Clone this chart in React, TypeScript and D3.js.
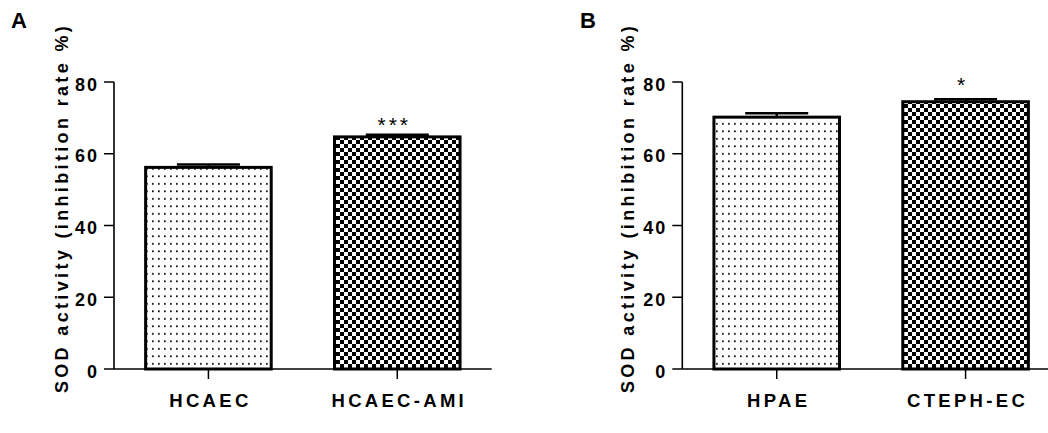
import React from "react";
import * as d3 from "d3";

const categoriesA = ["HCAEC", "HCAEC-AMI"];
const meansA = [56.2, 64.7];
const semsA = [0.8, 0.6];
const starsA = ["", "***"];

const categoriesB = ["HPAE", "CTEPH-EC"];
const meansB = [70.2, 74.5];
const semsB = [1.1, 0.7];
const starsB = ["", "*"];

const yTicks = [0, 20, 40, 60, 80];
const yLabel = "SOD activity (inhibition rate %)";
const panelLetters = ["A", "B"];
const patterns = ["dots", "checker"];

const FONT = "'Liberation Sans', Arial, sans-serif";

type PanelProps = {
  letter: string;
  cats: string[];
  means: number[];
  sems: number[];
  stars: string[];
  x0: number;
  x1: number;
  letterX: number;
  labelX: number;
  starGap: number;
};

function Panel({ letter, cats, means, sems, stars, x0, x1, letterX, labelX, starGap }: PanelProps) {
  const y = d3.scaleLinear().domain([0, 80]).range([369, 82]);
  const x = d3.scaleBand<string>().domain(cats).range([x0, x1]).padding(0);
  const bw = x.bandwidth() * 0.665;
  const capHalf = 31.5;
  return (
    <g>
      <text x={letterX} y={28} fontFamily={FONT} fontWeight="bold" fontSize={22}>{letter}</text>
      <text
        transform={`translate(${labelX},${208}) rotate(-90)`}
        textAnchor="middle"
        fontFamily={FONT}
        fontWeight="bold"
        fontSize={18}
        letterSpacing={3.35}
      >{yLabel}</text>
      {cats.map((c, i) => {
        const cx = (x(c) as number) + x.bandwidth() / 2;
        const top = y(means[i]);
        const eb = y(means[i] + sems[i]);
        return (
          <g key={c}>
            <rect
              x={cx - bw / 2}
              y={top}
              width={bw}
              height={y(0) - top}
              fill={`url(#${patterns[i]})`}
              stroke="#000"
              strokeWidth={3}
            />
            <line x1={cx} x2={cx} y1={top} y2={eb} stroke="#000" strokeWidth={2.5} />
            <line x1={cx - capHalf} x2={cx + capHalf} y1={eb} y2={eb} stroke="#000" strokeWidth={2.6} />
            {stars[i] && (
              <text x={cx - 3} y={eb - starGap} textAnchor="middle" fontFamily={FONT} fontSize={21} letterSpacing={3}>
                {stars[i]}
              </text>
            )}
            <line x1={cx} x2={cx} y1={369} y2={379} stroke="#000" strokeWidth={1.5} />
            <text
              x={cx + 2}
              y={407}
              textAnchor="middle"
              fontFamily={FONT}
              fontWeight="bold"
              fontSize={18.5}
              letterSpacing={3.3}
            >{c}</text>
          </g>
        );
      })}
      <line x1={x0} x2={x1} y1={369} y2={369} stroke="#000" strokeWidth={1.6} />
      <line x1={x0} x2={x0} y1={y(80)} y2={369} stroke="#000" strokeWidth={1.6} />
      {yTicks.map((t) => (
        <g key={t}>
          <line x1={x0 - 10} x2={x0} y1={y(t)} y2={y(t)} stroke="#000" strokeWidth={1.5} />
          <text
            x={x0 - 15}
            y={y(t) + 8.5}
            textAnchor="end"
            fontFamily={FONT}
            fontWeight="bold"
            fontSize={18}
            letterSpacing={2}
          >{t}</text>
        </g>
      ))}
    </g>
  );
}

export default function App() {
  return (
    <svg
      width={1048}
      height={433}
      style={{ position: "absolute", left: 0, top: 0, background: "#fff" }}
    >
      <defs>
        <pattern id="dots" patternUnits="userSpaceOnUse" width={6} height={7.5}>
          <rect width={6} height={7.5} fill="#fff" />
          <rect x={2} y={3} width={1.7} height={1.7} fill="#000" />
        </pattern>
        <pattern id="checker" patternUnits="userSpaceOnUse" width={8} height={8}>
          <rect width={8} height={8} fill="#fff" />
          <rect x={0} y={0} width={4} height={4} fill="#000" />
          <rect x={4} y={4} width={4} height={4} fill="#000" />
        </pattern>
      </defs>
      <rect width={1048} height={433} fill="#fff" />
      <Panel letter={panelLetters[0]} cats={categoriesA} means={meansA} sems={semsA} stars={starsA}
        x0={114} x1={491.7} letterX={11} labelX={68} starGap={2.3} />
      <Panel letter={panelLetters[1]} cats={categoriesB} means={meansB} sems={semsB} stars={starsB}
        x0={682.3} x1={1060} letterX={580} labelX={634} starGap={6.8} />
    </svg>
  );
}
